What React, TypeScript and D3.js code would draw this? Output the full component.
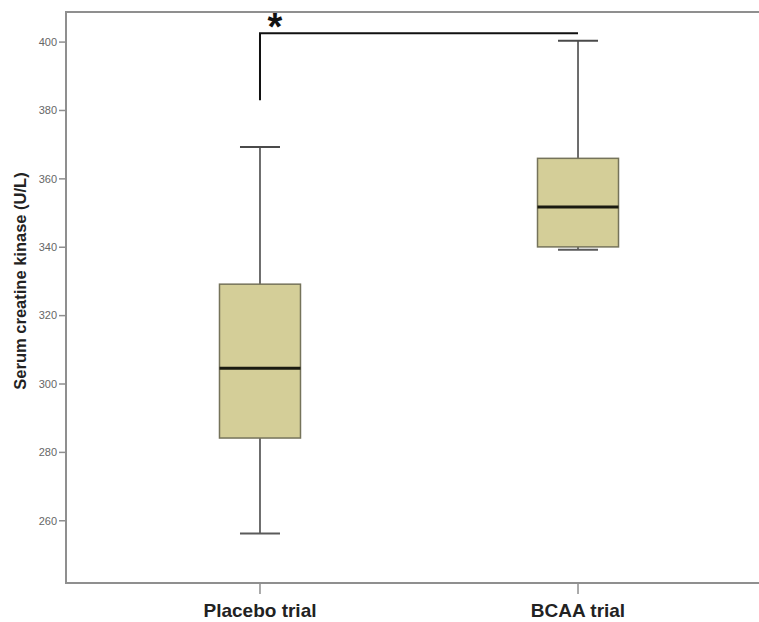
import React from "react";
import * as d3 from "d3";

const categories = ["Placebo trial", "BCAA trial"];
const whiskerLow = [256.3, 339.3];
const q1 = [284.2, 340.1];
const median = [304.6, 351.8];
const q3 = [329.2, 366.0];
const whiskerHigh = [369.3, 400.4];
const yTicks = [260, 280, 300, 320, 340, 360, 380, 400];
const bracketTop = 402.6;
const bracketLeftLow = 383;
const sigLabel = "*";
const yTitle = "Serum creatine kinase (U/L)";

export default function App() {
  const W = 759, H = 622;
  const left = 66, top = 12, bottom = 583;
  const y = d3.scaleLinear().domain([241.8, 408.8]).range([bottom, top]);
  const x = d3.scalePoint<string>().domain(categories).range([66, 772]).padding(0.61);
  const boxHalf = 40.5;
  const capHalf = 20;
  const font = "Arial, 'Liberation Sans', sans-serif";
  const x0 = x(categories[0])!;
  const x1 = x(categories[1])!;
  return (
    <svg width={W} height={H} style={{ position: "absolute", left: 0, top: 0, display: "block", background: "#fff" }}>
      {/* frame */}
      <line x1={left} y1={top} x2={W} y2={top} stroke="#8f8f8f" strokeWidth={2} />
      <line x1={left} y1={bottom} x2={W} y2={bottom} stroke="#8f8f8f" strokeWidth={2} />
      <line x1={left} y1={top - 1} x2={left} y2={bottom + 1} stroke="#8f8f8f" strokeWidth={2} />
      {/* y ticks */}
      {yTicks.map((t) => (
        <g key={t}>
          <line x1={left - 7} x2={left} y1={y(t)} y2={y(t)} stroke="#8f8f8f" strokeWidth={1.5} />
          <text x={left - 9} y={y(t)} dy="0.35em" textAnchor="end" fontFamily={font} fontSize={11} fill="#666">
            {t}
          </text>
        </g>
      ))}
      {/* x ticks and labels */}
      {categories.map((c) => (
        <g key={c}>
          <line x1={x(c)} x2={x(c)} y1={bottom} y2={bottom + 11} stroke="#8f8f8f" strokeWidth={1.5} />
          <text x={x(c)} y={617} textAnchor="middle" fontFamily={font} fontSize={19} fontWeight="bold" fill="#222">
            {c}
          </text>
        </g>
      ))}
      {/* y title */}
      <text
        transform={`translate(26, 281) rotate(-90)`}
        textAnchor="middle"
        fontFamily={font}
        fontSize={16.5}
        fontWeight="bold"
        fill="#222"
      >
        {yTitle}
      </text>
      {/* boxes */}
      {categories.map((c, i) => {
        const cx = x(c)!;
        return (
          <g key={c}>
            <line x1={cx} x2={cx} y1={y(whiskerHigh[i])} y2={y(q3[i])} stroke="#4a4a4a" strokeWidth={1.6} />
            <line x1={cx} x2={cx} y1={y(q1[i])} y2={y(whiskerLow[i])} stroke="#4a4a4a" strokeWidth={1.6} />
            <line x1={cx - capHalf} x2={cx + capHalf} y1={y(whiskerHigh[i])} y2={y(whiskerHigh[i])} stroke="#4a4a4a" strokeWidth={2} />
            <line x1={cx - capHalf} x2={cx + capHalf} y1={y(whiskerLow[i])} y2={y(whiskerLow[i])} stroke="#5a5a5a" strokeWidth={2} />
            <rect
              x={cx - boxHalf}
              y={y(q3[i])}
              width={boxHalf * 2}
              height={y(q1[i]) - y(q3[i])}
              fill="#d4ce98"
              stroke="#75735a"
              strokeWidth={1.5}
            />
            <line x1={cx - boxHalf} x2={cx + boxHalf} y1={y(median[i])} y2={y(median[i])} stroke="#1a1a10" strokeWidth={3} />
          </g>
        );
      })}
      {/* significance bracket */}
      <path
        d={`M${x0},${y(bracketLeftLow)} V${y(bracketTop)} H${x1}`}
        fill="none"
        stroke="#111"
        strokeWidth={2}
      />
      <text x={x0 + 15} y={40} textAnchor="middle" fontFamily={font} fontSize={38} fontWeight="bold" fill="#111">
        {sigLabel}
      </text>
    </svg>
  );
}
